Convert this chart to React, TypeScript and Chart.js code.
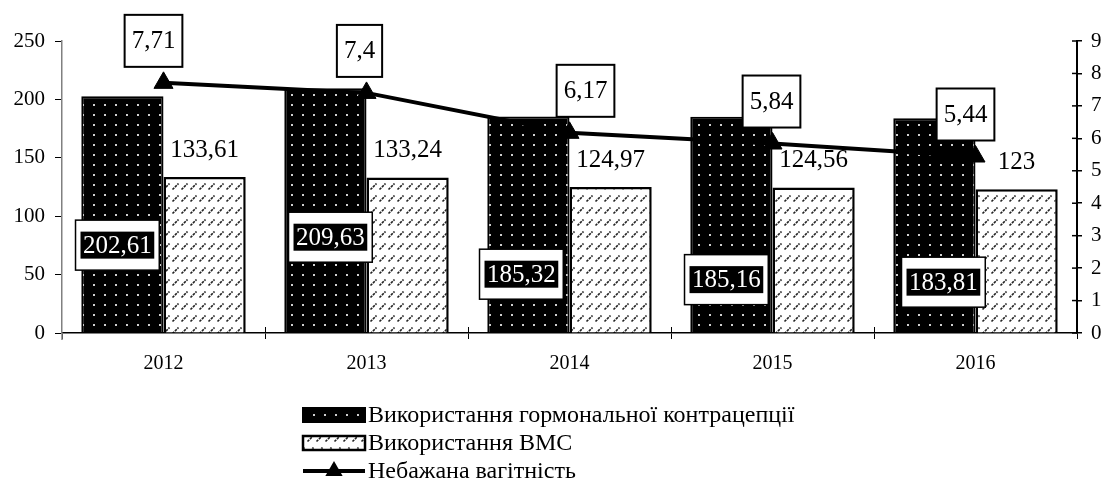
import React, { useEffect, useRef } from "react";
import { Chart, registerables } from "chart.js";

Chart.register(...registerables);

// ---- data ----
const years = ["2012", "2013", "2014", "2015", "2016"];
const hormonal = [202.61, 209.63, 185.32, 185.16, 183.81];
const iud = [133.61, 133.24, 124.97, 124.56, 123];
const unwanted = [7.71, 7.4, 6.17, 5.84, 5.44];
const seriesNames = [
  "Використання гормональної контрацепції",
  "Використання ВМС",
  "Небажана вагітність",
];
const leftMax = 250;
const leftStep = 50;
const rightMax = 9;
const rightStep = 1;

// ---- label layout (offsets only) ----
const lineLabelDx = [-10, -7, 16, -1, -10];
const barLabelDx = [-5, 5, -7, -5, 9];
const barLabelFrac = [0.37, 0.39, 0.27, 0.245, 0.235];

const FONT = "'Liberation Serif', 'Times New Roman', serif";
const fmt = (v: number) => String(v).replace(".", ",");

function makeDotPattern(): CanvasPattern | string {
  const c = document.createElement("canvas");
  c.width = 11;
  c.height = 10;
  const g = c.getContext("2d");
  if (!g) return "#000";
  g.fillStyle = "#000";
  g.fillRect(0, 0, 11, 10);
  g.fillStyle = "#d0d0d0";
  g.fillRect(5, 4, 2, 2);
  const p = g.createPattern(c, "repeat");
  return p || "#000";
}

function makeSlashPattern(): CanvasPattern | string {
  const c = document.createElement("canvas");
  c.width = 9;
  c.height = 12;
  const g = c.getContext("2d");
  if (!g) return "#fff";
  g.fillStyle = "#fff";
  g.fillRect(0, 0, 9, 12);
  g.strokeStyle = "#222";
  g.lineWidth = 1.7;
  g.setLineDash([2.5, 1]);
  g.beginPath();
  g.moveTo(1.5, 9.5);
  g.lineTo(7.5, 3.5);
  g.stroke();
  const p = g.createPattern(c, "repeat");
  return p || "#fff";
}

export default function App() {
  const ref = useRef<HTMLCanvasElement | null>(null);

  useEffect(() => {
    const canvas = ref.current;
    if (!canvas) return;
    const dotP = makeDotPattern();
    const slashP = makeSlashPattern();

    const labelsPlugin = {
      id: "customLabels",
      afterDatasetsDraw(chart: any) {
        const ctx = chart.ctx as CanvasRenderingContext2D;
        const m0 = chart.getDatasetMeta(0);
        const m1 = chart.getDatasetMeta(1);
        const m2 = chart.getDatasetMeta(2);
        ctx.save();
        ctx.font = `25px ${FONT}`;
        ctx.textAlign = "center";
        ctx.textBaseline = "middle";
        // IUD labels above bars
        m1.data.forEach((el: any, i: number) => {
          ctx.fillStyle = "#000";
          ctx.fillText(fmt(iud[i]), el.x, el.y - 27);
        });
        // hormonal labels in boxes
        m0.data.forEach((el: any, i: number) => {
          const base = el.base;
          const cy = base - barLabelFrac[i] * (base - el.y);
          const cx = el.x + barLabelDx[i];
          const t = fmt(hormonal[i]);
          const tw = ctx.measureText(t).width;
          const iw = tw + 5;
          const ih = 27;
          const ow = iw + 10;
          const oh = ih + 23;
          ctx.fillStyle = "#fff";
          ctx.fillRect(cx - ow / 2, cy - oh / 2, ow, oh);
          ctx.lineWidth = 1.5;
          ctx.strokeStyle = "#000";
          ctx.strokeRect(cx - ow / 2, cy - oh / 2, ow, oh);
          ctx.fillStyle = "#000";
          ctx.fillRect(cx - iw / 2, cy - ih / 2, iw, ih);
          ctx.fillStyle = "#fff";
          ctx.fillText(t, cx, cy + 1);
        });
        // line labels
        m2.data.forEach((el: any, i: number) => {
          const cx = el.x + lineLabelDx[i];
          const cy = el.y - 42;
          const t = fmt(unwanted[i]);
          const tw = ctx.measureText(t).width;
          const w = tw + 14;
          const h = 52;
          ctx.fillStyle = "#fff";
          ctx.fillRect(cx - w / 2, cy - h / 2, w, h);
          ctx.lineWidth = 2;
          ctx.strokeStyle = "#000";
          ctx.strokeRect(cx - w / 2, cy - h / 2, w, h);
          ctx.fillStyle = "#000";
          ctx.fillText(t, cx, cy + 1);
        });
        ctx.restore();
      },
      afterDraw(chart: any) {
        const ctx = chart.ctx as CanvasRenderingContext2D;
        const area = chart.chartArea;
        ctx.save();
        // inner parts of x-axis ticks (crossing)
        ctx.strokeStyle = "#000";
        ctx.lineWidth = 1;
        const n = years.length;
        const cw = (area.right - area.left) / n;
        for (let i = 1; i < n; i++) {
          const x = Math.round(area.left + i * cw) + 0.5;
          ctx.beginPath();
          ctx.moveTo(x, area.bottom);
          ctx.lineTo(x, area.bottom - 6);
          ctx.stroke();
        }
        // inner parts of right axis ticks
        const y1 = chart.scales.y1;
        ctx.lineWidth = 1.5;
        y1.ticks.forEach((t: any) => {
          const y = y1.getPixelForValue(t.value);
          ctx.beginPath();
          ctx.moveTo(area.right, y);
          ctx.lineTo(area.right - 5, y);
          ctx.stroke();
        });
        // left axis slight overhang below zero
        ctx.strokeStyle = "#808080";
        ctx.lineWidth = 1.5;
        ctx.beginPath();
        ctx.moveTo(area.left, area.bottom);
        ctx.lineTo(area.left, area.bottom + 7);
        ctx.stroke();

        // legend
        const sx = 303;
        const sw = 62;
        const tx = 368;
        const rows = [415, 443, 471];
        ctx.font = `24px ${FONT}`;
        ctx.textAlign = "left";
        ctx.textBaseline = "middle";
        ctx.strokeStyle = "#000";
        // row 1
        ctx.fillStyle = dotP as any;
        ctx.fillRect(sx, rows[0] - 7, sw, 14);
        ctx.lineWidth = 2;
        ctx.strokeRect(sx, rows[0] - 7, sw, 14);
        // row 2
        ctx.fillStyle = slashP as any;
        ctx.fillRect(sx, rows[1] - 7, sw, 14);
        ctx.lineWidth = 2.5;
        ctx.strokeRect(sx, rows[1] - 7, sw, 14);
        // row 3
        ctx.lineWidth = 4;
        ctx.beginPath();
        ctx.moveTo(sx, rows[2]);
        ctx.lineTo(sx + sw, rows[2]);
        ctx.stroke();
        const r = 10;
        const tcx = sx + sw / 2;
        ctx.fillStyle = "#000";
        ctx.beginPath();
        ctx.moveTo(tcx, rows[2] - r);
        ctx.lineTo(tcx + r * 0.866, rows[2] + r * 0.5);
        ctx.lineTo(tcx - r * 0.866, rows[2] + r * 0.5);
        ctx.closePath();
        ctx.fill();
        ctx.fillStyle = "#000";
        seriesNames.forEach((s, i) => {
          ctx.fillText(s, tx, rows[i] + 1);
        });
        ctx.restore();
      },
    };

    const chart = new Chart(canvas, {
      type: "bar",
      data: {
        labels: years,
        datasets: [
          {
            type: "bar",
            label: seriesNames[0],
            data: hormonal,
            yAxisID: "y",
            backgroundColor: dotP as any,
            borderColor: "#000",
            borderWidth: 2,
            categoryPercentage: 0.81,
            barPercentage: 1.0,
            order: 1,
          },
          {
            type: "bar",
            label: seriesNames[1],
            data: iud,
            yAxisID: "y",
            backgroundColor: slashP as any,
            borderColor: "#000",
            borderWidth: 2.5,
            categoryPercentage: 0.81,
            barPercentage: 1.0,
            order: 2,
          },
          {
            type: "line",
            label: seriesNames[2],
            data: unwanted,
            yAxisID: "y1",
            borderColor: "#000",
            borderWidth: 4,
            pointStyle: "triangle",
            pointRadius: 11,
            pointBackgroundColor: "#000",
            pointBorderColor: "#000",
            pointBorderWidth: 1,
            tension: 0,
            order: 0,
          } as any,
        ],
      },
      options: {
        responsive: false,
        animation: false,
        devicePixelRatio: 1,
        layout: { padding: { top: 41, left: 0, right: 0, bottom: 0 } },
        plugins: {
          legend: { display: false },
          tooltip: { enabled: false },
        },
        scales: {
          x: {
            offset: true,
            grid: {
              offset: true,
              drawOnChartArea: false,
              drawTicks: true,
              tickLength: 6,
              color: "#000",
              lineWidth: 1,
            },
            border: { color: "#000", width: 1.5 },
            ticks: {
              color: "#000",
              font: { family: FONT, size: 20 },
              padding: 13,
              maxRotation: 0,
            },
            afterFit: (s: any) => {
              s.height = 164;
            },
          },
          y: {
            position: "left",
            min: 0,
            max: leftMax,
            ticks: {
              stepSize: leftStep,
              color: "#000",
              font: { family: FONT, size: 21 },
              padding: 10,
            },
            grid: {
              drawOnChartArea: false,
              drawTicks: true,
              tickLength: 7,
              color: "#000",
              lineWidth: 1,
            },
            border: { color: "#808080", width: 1.5 },
            afterFit: (s: any) => {
              s.width = 62;
            },
          },
          y1: {
            position: "right",
            min: 0,
            max: rightMax,
            ticks: {
              stepSize: rightStep,
              color: "#000",
              font: { family: FONT, size: 21 },
              padding: 9,
            },
            grid: {
              drawOnChartArea: false,
              drawTicks: true,
              tickLength: 5,
              color: "#000",
              lineWidth: 1.5,
            },
            border: { color: "#000", width: 2 },
            afterFit: (s: any) => {
              s.width = 32;
            },
          },
        },
      } as any,
      plugins: [labelsPlugin as any],
    });

    return () => {
      chart.destroy();
    };
  }, []);

  return (
    <div style={{ position: "absolute", left: 0, top: 0, width: 1109, height: 497, background: "#fff" }}>
      <canvas ref={ref} width={1109} height={497} style={{ display: "block", width: 1109, height: 497 }} />
    </div>
  );
}
